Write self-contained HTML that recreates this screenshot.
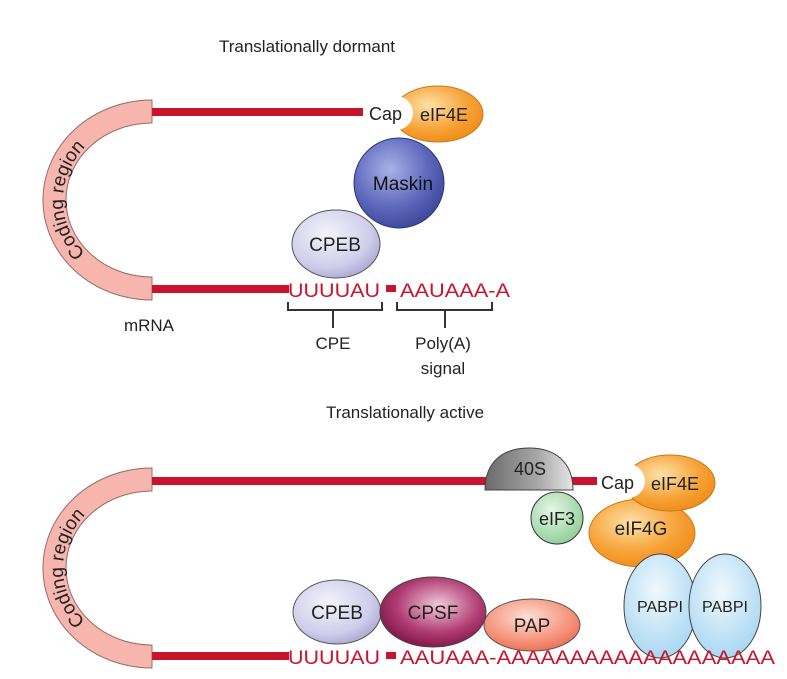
<!DOCTYPE html>
<html><head><meta charset="utf-8"><style>
html,body{margin:0;padding:0;background:#fff}
svg{display:block}
text{font-family:"Liberation Sans",sans-serif}
</style></head><body>
<svg width="787" height="679" viewBox="0 0 787 679" xmlns="http://www.w3.org/2000/svg">
<defs>
<radialGradient id="gOr" cx="0.4" cy="0.35" r="0.7"><stop offset="0" stop-color="#fde2a8"/><stop offset="0.6" stop-color="#f7a43a"/><stop offset="1" stop-color="#ef8a16"/></radialGradient>
<radialGradient id="gMask" cx="0.4" cy="0.35" r="0.7"><stop offset="0" stop-color="#a9b2e6"/><stop offset="0.6" stop-color="#5d69bd"/><stop offset="1" stop-color="#3c4596"/></radialGradient>
<radialGradient id="gCpeb" cx="0.4" cy="0.35" r="0.7"><stop offset="0" stop-color="#f4f3fb"/><stop offset="0.7" stop-color="#cfcdea"/><stop offset="1" stop-color="#a9a6d2"/></radialGradient>
<radialGradient id="gCpsf" cx="0.55" cy="0.4" r="0.65"><stop offset="0" stop-color="#f2c9da"/><stop offset="0.6" stop-color="#b03d73"/><stop offset="1" stop-color="#7a0f45"/></radialGradient>
<radialGradient id="gPap" cx="0.45" cy="0.35" r="0.7"><stop offset="0" stop-color="#fde0d6"/><stop offset="0.7" stop-color="#f48e74"/><stop offset="1" stop-color="#e9694f"/></radialGradient>
<radialGradient id="gEif3" cx="0.4" cy="0.35" r="0.7"><stop offset="0" stop-color="#e6f6e6"/><stop offset="1" stop-color="#8fce96"/></radialGradient>
<radialGradient id="gPab" cx="0.45" cy="0.35" r="0.75"><stop offset="0" stop-color="#f0f8fd"/><stop offset="1" stop-color="#9fd3f1"/></radialGradient>
<linearGradient id="g40" x1="0" y1="0" x2="1" y2="0"><stop offset="0" stop-color="#6a6a6a"/><stop offset="0.6" stop-color="#a8a8a8"/><stop offset="1" stop-color="#e6e6e6"/></linearGradient>
<mask id="m1"><rect width="787" height="679" fill="#fff"/><circle cx="396" cy="113" r="17" fill="#000"/></mask>
<mask id="m2"><rect width="787" height="679" fill="#fff"/><circle cx="628" cy="481" r="17" fill="#000"/></mask>
<path id="arcT" d="M152,280 A89,80 0 0 1 152,120"/>
<path id="arcB" d="M152,648 A89,80 0 0 1 152,488"/>
</defs>

<!-- TOP -->
<text x="307" y="52" font-size="17" text-anchor="middle" fill="#222">Translationally dormant</text>
<path d="M152,100 A109,100 0 0 0 152,300 L152,277 A86,77 0 0 1 152,123 Z" fill="#f6b5ad" stroke="#9a6a66" stroke-width="1"/>
<text font-size="19" fill="#222"><textPath href="#arcT" startOffset="50%" text-anchor="middle">Coding region</textPath></text>
<rect x="152" y="108" width="211" height="8" fill="#c8142c"/>
<rect x="152" y="285" width="137" height="8" fill="#c8142c"/>
<ellipse cx="438" cy="114" rx="45" ry="28" fill="url(#gOr)" stroke="#c87a1a" stroke-width="1" mask="url(#m1)"/>
<text x="369" y="120" font-size="18" fill="#222">Cap</text>
<text x="444" y="121" font-size="18" text-anchor="middle" fill="#222">eIF4E</text>
<circle cx="399" cy="183" r="45" fill="url(#gMask)" stroke="#2d3478" stroke-width="1"/>
<text x="403" y="190" font-size="19" text-anchor="middle" fill="#111">Maskin</text>
<ellipse cx="336" cy="244" rx="44" ry="34" fill="url(#gCpeb)" stroke="#555" stroke-width="1"/>
<text x="335" y="251" font-size="19" text-anchor="middle" fill="#222">CPEB</text>
<text x="288" y="297" font-size="19" fill="#c8142c" textLength="92" lengthAdjust="spacingAndGlyphs">UUUUAU</text>
<rect x="386" y="285" width="10" height="7" fill="#c8142c"/>
<text x="400" y="297" font-size="19" fill="#c8142c" textLength="110" lengthAdjust="spacingAndGlyphs">AAUAAA-A</text>
<path d="M288,302 V310 H382 V302 M333,310 V328" fill="none" stroke="#333" stroke-width="2"/>
<path d="M397,302 V310 H492 V302 M445,310 V328" fill="none" stroke="#333" stroke-width="2"/>
<text x="333" y="349" font-size="17" text-anchor="middle" fill="#222">CPE</text>
<text x="443" y="349" font-size="17" text-anchor="middle" fill="#222">Poly(A)</text>
<text x="443" y="374" font-size="17" text-anchor="middle" fill="#222">signal</text>
<text x="149" y="331" font-size="17" text-anchor="middle" fill="#222">mRNA</text>

<!-- BOTTOM -->
<text x="405" y="418" font-size="17" text-anchor="middle" fill="#222">Translationally active</text>
<path d="M152,468 A109,100 0 0 0 152,668 L152,645 A86,77 0 0 1 152,491 Z" fill="#f6b5ad" stroke="#9a6a66" stroke-width="1"/>
<text font-size="19" fill="#222"><textPath href="#arcB" startOffset="50%" text-anchor="middle">Coding region</textPath></text>
<rect x="152" y="477" width="445" height="8" fill="#c8142c"/>
<rect x="152" y="652" width="137" height="8" fill="#c8142c"/>
<path d="M485,490 C485,460 505,448 529,448 C555,448 573,462 573,490 Z" fill="url(#g40)" stroke="#444" stroke-width="1"/>
<text x="530" y="475" font-size="18" text-anchor="middle" fill="#222">40S</text>
<ellipse cx="642" cy="533" rx="53" ry="34" fill="url(#gOr)" stroke="#c87a1a" stroke-width="1"/>
<text x="641" y="535" font-size="19" text-anchor="middle" fill="#222">eIF4G</text>
<ellipse cx="670" cy="483" rx="45" ry="28" fill="url(#gOr)" stroke="#c87a1a" stroke-width="1" mask="url(#m2)"/>
<text x="601" y="489" font-size="18" fill="#222">Cap</text>
<text x="675" y="490" font-size="18" text-anchor="middle" fill="#222">eIF4E</text>
<circle cx="557" cy="518" r="26" fill="url(#gEif3)" stroke="#333" stroke-width="1"/>
<text x="557" y="525" font-size="18" text-anchor="middle" fill="#222">eIF3</text>
<ellipse cx="660" cy="606" rx="36" ry="52" fill="url(#gPab)" stroke="#444" stroke-width="1"/>
<ellipse cx="725" cy="606" rx="36" ry="52" fill="url(#gPab)" stroke="#444" stroke-width="1"/>
<text x="660" y="612" font-size="16" text-anchor="middle" fill="#222">PABPI</text>
<text x="725" y="612" font-size="16" text-anchor="middle" fill="#222">PABPI</text>
<ellipse cx="337" cy="612" rx="44" ry="32" fill="url(#gCpeb)" stroke="#555" stroke-width="1"/>
<text x="337" y="619" font-size="19" text-anchor="middle" fill="#222">CPEB</text>
<ellipse cx="433" cy="612" rx="53" ry="35" fill="url(#gCpsf)" stroke="#444" stroke-width="1"/>
<text x="433" y="619" font-size="19" text-anchor="middle" fill="#222">CPSF</text>
<ellipse cx="532" cy="625" rx="48" ry="26" fill="url(#gPap)" stroke="#555" stroke-width="1"/>
<text x="532" y="632" font-size="19" text-anchor="middle" fill="#222">PAP</text>
<text x="288" y="664" font-size="19" fill="#c8142c" textLength="92" lengthAdjust="spacingAndGlyphs">UUUUAU</text>
<rect x="386" y="652" width="10" height="7" fill="#c8142c"/>
<text x="400" y="664" font-size="19" fill="#c8142c" textLength="375" lengthAdjust="spacingAndGlyphs">AAUAAA-AAAAAAAAAAAAAAAAAAA</text>
</svg>
</body></html>
